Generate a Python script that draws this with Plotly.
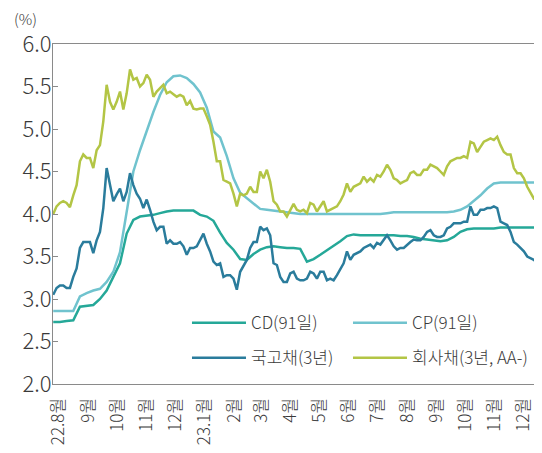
import pandas as pd
import plotly.graph_objects as go

# ---- data -------------------------------------------------------------
weekly_dates = pd.date_range('2022-07-26', periods=74, freq='7D')
semi_dates = pd.date_range('2022-07-26', periods=147, freq='84h')

cd_91 = [2.73, 2.73, 2.74, 2.75, 2.91, 2.92, 2.93, 3.00, 3.10, 3.26,
         3.42, 3.77, 3.93, 3.97, 3.98, 3.99, 4.01, 4.03, 4.04, 4.04,
         4.04, 4.04, 3.99, 3.97, 3.92, 3.78, 3.66, 3.58, 3.47, 3.46,
         3.53, 3.58, 3.61, 3.62, 3.61, 3.60, 3.60, 3.59, 3.44, 3.47,
         3.52, 3.57, 3.62, 3.68, 3.74, 3.76, 3.75, 3.75, 3.75, 3.75,
         3.75, 3.75, 3.74, 3.74, 3.73, 3.71, 3.70, 3.69, 3.68, 3.69,
         3.73, 3.79, 3.82, 3.83, 3.83, 3.83, 3.83, 3.84, 3.84, 3.84,
         3.84, 3.84, 3.84, 3.84]

cp_91 = [2.86, 2.86, 2.86, 2.86, 3.03, 3.07, 3.10, 3.12, 3.20, 3.32,
         3.55, 4.05, 4.50, 4.75, 4.98, 5.20, 5.40, 5.55, 5.62, 5.63,
         5.60, 5.53, 5.43, 5.25, 4.97, 4.90, 4.68, 4.42, 4.25, 4.19,
         4.12, 4.06, 4.05, 4.04, 4.03, 4.02, 4.01, 4.00, 4.00, 4.00,
         4.00, 4.00, 4.00, 4.00, 4.00, 4.00, 4.00, 4.00, 4.00, 4.00,
         4.01, 4.02, 4.02, 4.02, 4.02, 4.02, 4.02, 4.02, 4.02, 4.02,
         4.03, 4.05, 4.09, 4.15, 4.22, 4.30, 4.36, 4.37, 4.37, 4.37,
         4.37, 4.37, 4.37, 4.37]

ktb_3y = [3.05, 3.13, 3.16, 3.16, 3.13, 3.13, 3.26, 3.36, 3.60, 3.67,
          3.67, 3.67, 3.54, 3.69, 3.79, 4.07, 4.54, 4.34, 4.15, 4.23,
          4.30, 4.15, 4.26, 4.48, 4.34, 4.24, 4.18, 4.07, 4.17, 4.05,
          3.91, 3.81, 3.85, 3.85, 3.65, 3.69, 3.65, 3.65, 3.67, 3.62,
          3.52, 3.60, 3.60, 3.62, 3.69, 3.77, 3.65, 3.56, 3.44, 3.40,
          3.42, 3.26, 3.28, 3.28, 3.24, 3.11, 3.32, 3.40, 3.46, 3.60,
          3.67, 3.67, 3.85, 3.81, 3.83, 3.75, 3.42, 3.40, 3.26, 3.20,
          3.20, 3.30, 3.32, 3.24, 3.22, 3.22, 3.24, 3.32, 3.30, 3.24,
          3.32, 3.32, 3.22, 3.24, 3.22, 3.28, 3.36, 3.42, 3.56, 3.46,
          3.52, 3.54, 3.56, 3.60, 3.62, 3.64, 3.60, 3.66, 3.64, 3.69,
          3.75, 3.69, 3.62, 3.58, 3.60, 3.60, 3.64, 3.67, 3.70, 3.69,
          3.69, 3.73, 3.79, 3.81, 3.75, 3.73, 3.73, 3.75, 3.83, 3.85,
          3.89, 3.89, 3.89, 3.91, 3.91, 4.09, 3.99, 3.99, 4.05, 4.05,
          4.07, 4.07, 4.09, 4.07, 3.91, 3.89, 3.87, 3.79, 3.67, 3.64,
          3.60, 3.56, 3.50, 3.48, 3.46, 3.42, 3.28]

corp_3y = [4.00, 4.09, 4.13, 4.15, 4.13, 4.08, 4.22, 4.34, 4.62, 4.70,
           4.66, 4.66, 4.54, 4.75, 4.81, 5.09, 5.52, 5.32, 5.23, 5.32,
           5.44, 5.23, 5.42, 5.70, 5.58, 5.60, 5.50, 5.54, 5.64, 5.58,
           5.38, 5.44, 5.48, 5.52, 5.42, 5.44, 5.41, 5.38, 5.40, 5.38,
           5.28, 5.33, 5.24, 5.23, 5.24, 5.24, 5.15, 5.05, 4.85, 4.62,
           4.62, 4.40, 4.38, 4.36, 4.24, 4.09, 4.24, 4.22, 4.24, 4.32,
           4.26, 4.26, 4.50, 4.42, 4.52, 4.38, 4.15, 4.11, 4.03, 4.03,
           3.97, 4.05, 4.12, 4.05, 4.03, 4.05, 4.01, 4.13, 4.11, 4.03,
           4.09, 4.15, 4.03, 4.05, 4.07, 4.09, 4.15, 4.23, 4.36, 4.26,
           4.32, 4.34, 4.36, 4.44, 4.38, 4.42, 4.38, 4.46, 4.44, 4.50,
           4.58, 4.52, 4.42, 4.40, 4.36, 4.38, 4.40, 4.48, 4.50, 4.46,
           4.46, 4.52, 4.52, 4.58, 4.56, 4.54, 4.50, 4.46, 4.56, 4.62,
           4.64, 4.66, 4.66, 4.68, 4.66, 4.85, 4.83, 4.73, 4.79, 4.85,
           4.87, 4.89, 4.87, 4.91, 4.81, 4.73, 4.70, 4.70, 4.54, 4.48,
           4.48, 4.42, 4.32, 4.24, 4.18, 4.18, 4.00]

month_ticks = pd.date_range('2022-08-01', '2023-12-01', freq='MS')
month_labels = ['22.8월', '9월', '10월', '11월', '12월', '23.1월', '2월', '3월',
                '4월', '5월', '6월', '7월', '8월', '9월', '10월', '11월', '12월']

# ---- figure -----------------------------------------------------------
FONT = 'Noto Sans CJK KR, Noto Sans, sans-serif'
TXT = '#3a3a3a'
AX = '#8a8a8a'

fig = go.Figure()
fig.add_trace(go.Scatter(x=weekly_dates, y=cd_91, name='CD(91일)', mode='lines',
                         line=dict(color='#25A898', width=2.5), legend='legend'))
fig.add_trace(go.Scatter(x=weekly_dates, y=cp_91, name='CP(91일)', mode='lines',
                         line=dict(color='#70C3CE', width=2.5), legend='legend',
                         legendwidth=110))
fig.add_trace(go.Scatter(x=semi_dates, y=ktb_3y, name='국고채(3년)', mode='lines',
                         line=dict(color='#2A7C9C', width=2.5), legend='legend2'))
fig.add_trace(go.Scatter(x=semi_dates, y=corp_3y, name='회사채(3년, AA-)', mode='lines',
                         line=dict(color='#B3C545', width=2.5), legend='legend2',
                         legendwidth=125))

leg_common = dict(orientation='h', xanchor='left', yanchor='middle', x=0.274,
                  entrywidth=92, entrywidthmode='pixels', itemwidth=54,
                  font=dict(family=FONT, size=17, color=TXT, weight=300),
                  bgcolor='rgba(0,0,0,0)', borderwidth=0)

# the page adds an 8px body margin; the figure is sized so the plot area
# lands at x 53-542, y 44-384 of the window
fig.update_layout(
    width=534, height=445,
    margin=dict(l=45, r=0, t=36, b=69, autoexpand=False),
    paper_bgcolor='white', plot_bgcolor='white',
    font=dict(family=FONT, size=16, color=TXT, weight=300),
    showlegend=True,
    legend=dict(leg_common, y=0.179),
    legend2=dict(leg_common, y=0.076),
    xaxis=dict(type='date', range=['2022-07-25 18:00', '2023-12-20 12:00'],
               tickmode='array', tickvals=month_ticks, ticktext=month_labels,
               tickangle=-90, showline=True, mirror=True, linecolor=AX, linewidth=1.3,
               ticks='', showgrid=False, zeroline=False, automargin=False,
               tickfont=dict(family=FONT, size=17, color=TXT, weight=300),
               ticklabelstandoff=6),
    yaxis=dict(range=[2, 6], dtick=0.5, tick0=2, tickformat='.1f',
               ticks='inside', ticklen=5, tickcolor=AX, tickwidth=1.3,
               showline=True, linecolor=AX, linewidth=1.3,
               showgrid=False, zeroline=False, automargin=False,
               tickfont=dict(family=FONT, size=22, color=TXT, weight=300),
               ticklabelstandoff=-4),
    annotations=[dict(text='(%)', xref='paper', yref='paper', x=(25 - 53) / 489,
                      y=(384 - 18.5) / 340, xanchor='center', yanchor='middle',
                      showarrow=False,
                      font=dict(family=FONT, size=15, color=TXT, weight=300))],
)

fig.write_html('out.html')
